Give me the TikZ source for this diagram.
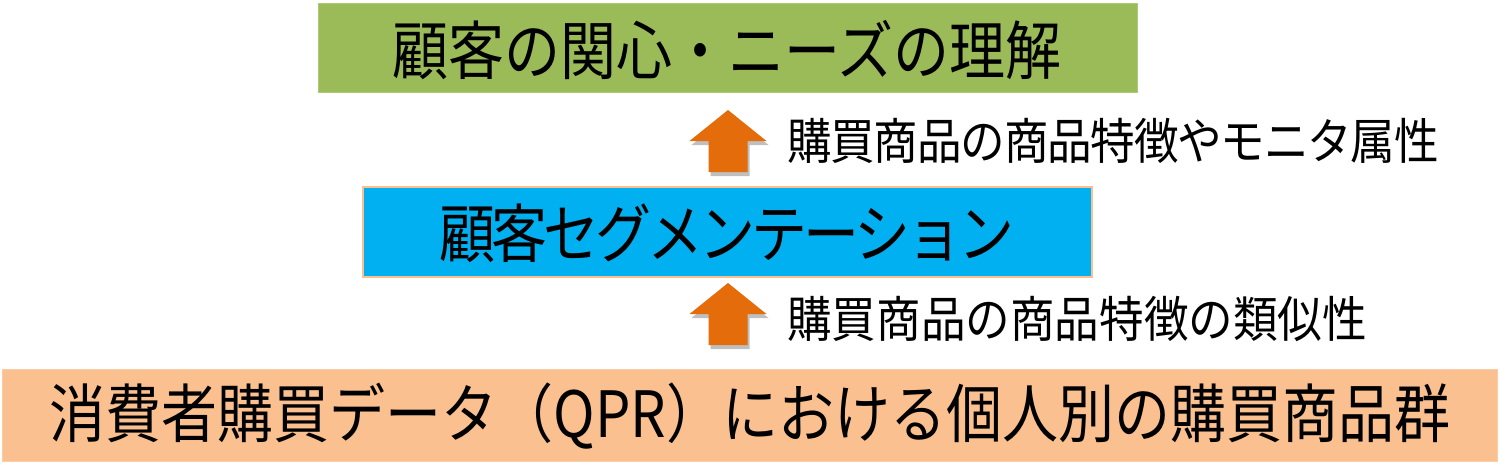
\documentclass[tikz,border=0pt]{standalone}
\usepackage{graphicx}
\usepackage{fontspec}
\setmainfont{Noto Sans CJK JP}
\newfontfamily\titlefont{Noto Sans CJK JP}
\newfontfamily\segfont[LetterSpace=-7]{Noto Sans CJK JP}
\newfontfamily\labfontA[LetterSpace=-2.8]{Noto Sans CJK JP}
\newfontfamily\labfontB{Noto Sans CJK JP}
\definecolor{boxgreen}{HTML}{9BBB59}
\definecolor{boxblue}{HTML}{00B0F0}
\definecolor{boxorange}{HTML}{FAC090}
\definecolor{arroworange}{HTML}{E46C0A}
\begin{document}
\begin{tikzpicture}[x=1pt,y=-1pt,
  titletext/.style={font=\fontsize{56}{60}\selectfont, text=black, inner sep=0pt},
  labeltext/.style={font=\fontsize{44.6}{46}\selectfont, text=black, inner sep=0pt, anchor=west},
]
\useasboundingbox (0,0) rectangle (1500,464);
% boxes
\filldraw[fill=boxgreen, draw=boxgreen!80!white, line width=1pt] (318,3) rectangle (1137,92);
\node[titletext] (top) at (727,50) {\titlefont\scalebox{1}[1.14]{顧客の関心・ニーズの理解}};
\filldraw[fill=boxblue, draw=boxorange, line width=1.2pt] (363,187) rectangle (1092,277);
\node[titletext] (mid) at (727,233) {\segfont\scalebox{1}[1.14]{顧客セグメンテーション}};
\filldraw[fill=boxorange, draw=boxorange!80!white, line width=1pt] (2,369) rectangle (1497,461);
\node[titletext] (bot) at (750,416) {\titlefont\scalebox{1}[1.14]{消費者購買データ（QPR）における個人別の購買商品群}};
% block arrows
\foreach \n/\ty in {a1/110, a2/283} {
  \coordinate (\n) at (728,\ty);
  \fill[black, opacity=0.25] ([shift={(2,4)}]\n) -- ++(38.5,31) -- ++(-19,0) -- ++(0,31) -- ++(-39,0) -- ++(0,-31) -- ++(-19,0) -- cycle;
  \fill[arroworange] (\n) -- ++(38.5,31) -- ++(-19,0) -- ++(0,31) -- ++(-39,0) -- ++(0,-31) -- ++(-19,0) -- cycle;
}
\node[labeltext] (l1) at (787,141) {\labfontA\scalebox{1}[1.1]{購買商品の商品特徴やモニタ属性}};
\node[labeltext] (l2) at (787,319) {\labfontB\scalebox{1}[1.1]{購買商品の商品特徴の類似性}};
\end{tikzpicture}
\end{document}
